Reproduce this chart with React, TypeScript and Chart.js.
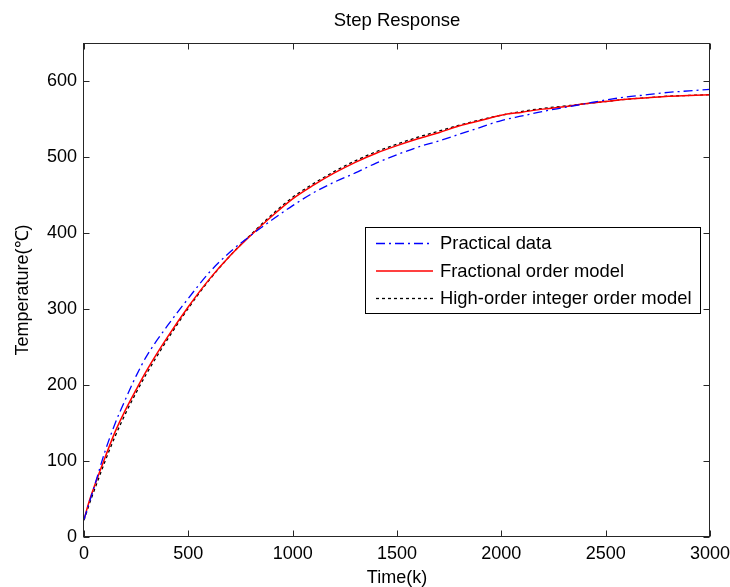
import React, { useEffect, useRef } from "react";
import { Chart, registerables } from "chart.js";

Chart.register(...registerables);

// ---- data ----
const timeK = [0, 25, 50, 100, 150, 200, 250, 300, 400, 500, 600, 700, 800, 900, 1000, 1100, 1200, 1300, 1400, 1500, 1600, 1700, 1800, 1900, 2000, 2100, 2200, 2300, 2400, 2500, 2600, 2700, 2800, 2900, 3000];

const practicalData = [23, 45, 67, 112, 150, 182, 212, 238, 278, 314, 348, 375, 397, 417, 436, 453, 467, 479, 492, 503, 513, 521, 530, 539, 548, 554, 560, 565, 570, 575, 579, 582, 585, 587, 589];

const fractionalModel = [23, 47, 67, 104, 139, 168, 194, 219, 263, 303, 339, 370, 397, 422, 445, 463, 479, 493, 505, 515, 524, 532, 541, 548, 555, 559, 563, 566, 570, 573, 576, 578, 580, 581, 582];

const highOrderModel = [22, 43, 62, 99, 133, 163, 190, 215, 260, 301, 338, 370, 398, 424, 447, 465, 481, 495, 507, 517, 526, 534, 542, 549, 555, 560, 564, 567, 570, 573, 576, 578, 580, 581, 582];

const xTickValues = [0, 500, 1000, 1500, 2000, 2500, 3000];
const yTickValues = [0, 100, 200, 300, 400, 500, 600];

const seriesLabels = ["Practical data", "Fractional order model", "High-order integer order model"];
const chartTitle = "Step Response";
const xAxisTitle = "Time(k)";
const yAxisTitle = "Temperature(\u2103)";

const FONT = "'Liberation Sans', Arial, Helvetica, sans-serif";

const framePlugin = {
  id: "matlabFrame",
  afterDatasetsDraw(chart: any) {
    const { ctx, chartArea: a, scales } = chart;
    const xs = scales.x;
    const ys = scales.y;
    const L = Math.round(a.left) - 0.5;
    const R = Math.round(a.right) - 0.5;
    const T = Math.round(a.top) + 0.5;
    const B = Math.round(a.bottom) - 0.5;
    const tl = 6;
    ctx.save();
    ctx.strokeStyle = "#262626";
    ctx.lineWidth = 1;
    ctx.setLineDash([]);
    ctx.strokeRect(L, T, R - L, B - T);
    ctx.beginPath();
    for (const t of xs.ticks) {
      const px = Math.round(xs.getPixelForValue(t.value)) + 0.5;
      ctx.moveTo(px, B);
      ctx.lineTo(px, B - tl);
      ctx.moveTo(px, T);
      ctx.lineTo(px, T + tl);
    }
    for (const t of ys.ticks) {
      const py = Math.round(ys.getPixelForValue(t.value)) + 0.5;
      ctx.moveTo(L, py);
      ctx.lineTo(L + tl, py);
      ctx.moveTo(R, py);
      ctx.lineTo(R - tl, py);
    }
    ctx.stroke();
    ctx.restore();
  },
};

const legendPlugin = {
  id: "insideLegend",
  afterDraw(chart: any) {
    const { ctx, chartArea: a } = chart;
    const right = a.right - 10;
    const left = right - 335;
    const top = a.top + 184;
    const rowH = 27.5;
    const height = 86;
    ctx.save();
    ctx.fillStyle = "#ffffff";
    ctx.fillRect(left, top, right - left, height);
    ctx.strokeStyle = "#000000";
    ctx.lineWidth = 1;
    ctx.setLineDash([]);
    ctx.strokeRect(Math.round(left) + 0.5, Math.round(top) + 0.5, right - left, height);
    ctx.font = `18.4px ${FONT}`;
    ctx.textBaseline = "middle";
    ctx.textAlign = "left";
    chart.data.datasets.forEach((ds: any, i: number) => {
      const y = top + 16.5 + i * rowH;
      ctx.beginPath();
      ctx.strokeStyle = ds.borderColor;
      ctx.lineWidth = ds.borderWidth;
      ctx.setLineDash(ds.borderDash || []);
      ctx.moveTo(left + 11, y);
      ctx.lineTo(left + 68, y);
      ctx.stroke();
      ctx.setLineDash([]);
      ctx.fillStyle = "#000000";
      ctx.fillText(ds.label, left + 75, y + 0.5);
    });
    ctx.restore();
  },
};

export default function App() {
  const canvasRef = useRef<HTMLCanvasElement | null>(null);

  useEffect(() => {
    document.body.style.margin = "0";
    const canvas = canvasRef.current;
    if (!canvas) return;
    const mk = (vals: number[]) => timeK.map((t, i) => ({ x: t, y: vals[i] }));
    const chart = new Chart(canvas, {
      type: "line",
      data: {
        datasets: [
          {
            label: seriesLabels[0],
            data: mk(practicalData),
            borderColor: "#0000ff",
            borderWidth: 1.3,
            borderDash: [9, 4, 2, 4],
            pointRadius: 0,
            fill: false,
            cubicInterpolationMode: "monotone",
          },
          {
            label: seriesLabels[1],
            data: mk(fractionalModel),
            borderColor: "#ff0000",
            borderWidth: 1.5,
            pointRadius: 0,
            fill: false,
            cubicInterpolationMode: "monotone",
          },
          {
            label: seriesLabels[2],
            data: mk(highOrderModel),
            borderColor: "#000000",
            borderWidth: 1.3,
            borderDash: [3, 3],
            pointRadius: 0,
            fill: false,
            cubicInterpolationMode: "monotone",
          },
        ],
      },
      options: {
        responsive: false,
        animation: false,
        devicePixelRatio: 1,
        layout: { padding: { top: 0, right: 20, bottom: 0, left: 0 } },
        plugins: {
          legend: { display: false },
          tooltip: { enabled: false },
          title: {
            display: true,
            fullSize: false,
            text: chartTitle,
            color: "#000",
            font: { family: FONT, size: 18.5, weight: "normal", lineHeight: 1.2 },
            padding: { top: 10, bottom: 10.8 },
          },
        },
        scales: {
          x: {
            type: "linear",
            min: 0,
            max: 3000,
            grid: { display: false, drawTicks: false },
            border: { display: false },
            afterBuildTicks: (s: any) => {
              s.ticks = xTickValues.map((v) => ({ value: v }));
            },
            afterFit: (s: any) => {
              s.height = 50;
              s.paddingLeft = 0;
              s.paddingRight = 0;
            },
            ticks: {
              color: "#000",
              font: { family: FONT, size: 18 },
              padding: 6,
              maxRotation: 0,
              autoSkip: false,
              callback: (v: any) => String(v),
            },
            title: {
              display: true,
              text: xAxisTitle,
              color: "#000",
              font: { family: FONT, size: 18, lineHeight: 1 },
              padding: { top: 0, bottom: 0 },
            },
          },
          y: {
            type: "linear",
            min: 0,
            max: 650,
            grid: { display: false, drawTicks: false },
            border: { display: false },
            afterBuildTicks: (s: any) => {
              s.ticks = yTickValues.map((v) => ({ value: v }));
            },
            afterFit: (s: any) => {
              s.width = 84;
              s.paddingTop = 0;
              s.paddingBottom = 0;
            },
            ticks: {
              color: "#000",
              font: { family: FONT, size: 18 },
              padding: 7,
              autoSkip: false,
              callback: (v: any) => String(v),
            },
            title: {
              display: true,
              text: yAxisTitle,
              color: "#000",
              font: { family: FONT, size: 18, lineHeight: 1 },
              padding: { top: 14.5, bottom: 0 },
            },
          },
        },
      } as any,
      plugins: [framePlugin, legendPlugin],
    });
    return () => chart.destroy();
  }, []);

  return (
    <div style={{ position: "absolute", left: 0, top: 0, width: 730, height: 587, background: "#fff" }}>
      <canvas ref={canvasRef} width={730} height={587} style={{ display: "block", width: 730, height: 587 }} />
    </div>
  );
}
